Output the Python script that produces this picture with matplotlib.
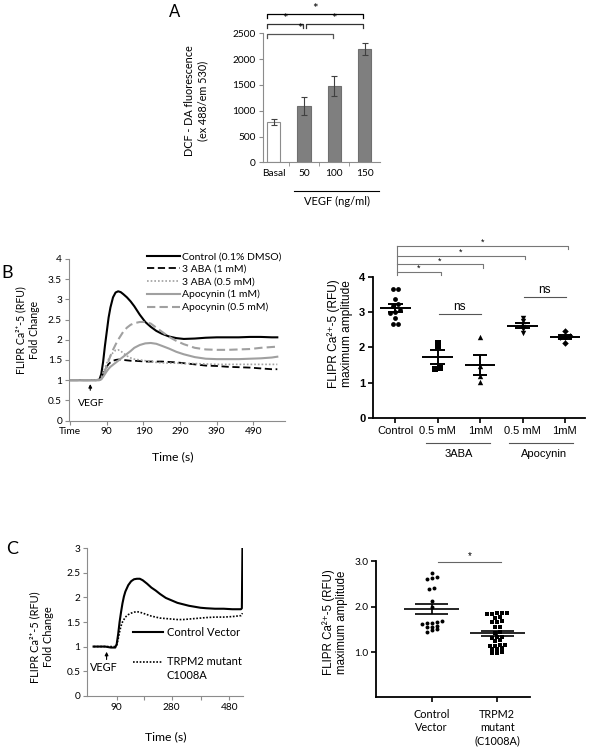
import numpy as np
import matplotlib.pyplot as plt
from matplotlib.lines import Line2D

CAL = ['Lato', 'DejaVu Sans']
ARIAL = ['Liberation Sans', 'DejaVu Sans']
plt.rcParams['font.family'] = CAL

W, H = 589, 750

# ---- panel A data ----
dcf_labels = ['Basal', '50', '100', '150']
dcf_mean = [775, 1095, 1478, 2195]
dcf_err = [55, 180, 185, 115]
dcf_sig = [(0, 3), (0, 1), (1, 3), (0, 2)]
dcf_sig_level = [2870, 2675, 2675, 2480]

# ---- panel B traces ----
b_time = [-10, 0, 20, 40, 60, 70, 75, 80, 85, 90, 95, 100, 107, 114, 121, 128, 135, 145, 155,
          165, 180, 195, 210, 225, 240, 260, 280, 300, 330, 360, 390, 420, 450, 480, 510, 540, 555]
b_control = [1.0, 1.0, 1.0, 1.0, 1.0, 1.01, 1.15, 1.45, 1.85, 2.2, 2.55, 2.8, 3.05, 3.17, 3.2, 3.18,
             3.13, 3.05, 2.95, 2.83, 2.62, 2.44, 2.32, 2.22, 2.15, 2.08, 2.04, 2.02, 2.03, 2.05, 2.06,
             2.06, 2.06, 2.07, 2.07, 2.06, 2.06]
b_aba_1 = [1.0, 1.0, 1.0, 1.0, 1.0, 1.0, 1.05, 1.15, 1.25, 1.33, 1.4, 1.44, 1.48, 1.5, 1.51, 1.51,
           1.5, 1.49, 1.48, 1.48, 1.47, 1.46, 1.46, 1.46, 1.46, 1.45, 1.44, 1.42, 1.39, 1.36, 1.35,
           1.33, 1.32, 1.31, 1.29, 1.27, 1.27]
b_aba_05 = [1.0, 1.0, 1.0, 1.0, 1.0, 1.0, 1.06, 1.18, 1.3, 1.42, 1.52, 1.6, 1.68, 1.74, 1.75, 1.72,
            1.67, 1.6, 1.55, 1.52, 1.5, 1.48, 1.46, 1.44, 1.43, 1.42, 1.42, 1.41, 1.41, 1.4, 1.39,
            1.39, 1.39, 1.39, 1.39, 1.39, 1.39]
b_apo_1 = [1.0, 1.0, 1.0, 1.0, 1.0, 1.0, 1.02, 1.08, 1.15, 1.22, 1.28, 1.33, 1.38, 1.43, 1.48, 1.53,
           1.58, 1.65, 1.72, 1.8, 1.87, 1.91, 1.92, 1.9, 1.85, 1.78, 1.7, 1.64, 1.57, 1.53, 1.52,
           1.52, 1.52, 1.53, 1.54, 1.56, 1.58]
b_apo_05 = [1.0, 1.0, 1.0, 1.0, 1.0, 1.0, 1.03, 1.12, 1.22, 1.35, 1.48, 1.6, 1.75, 1.88, 2.0, 2.1,
            2.2, 2.3, 2.37, 2.41, 2.44, 2.44, 2.4, 2.3, 2.2, 2.07, 1.97, 1.89, 1.8, 1.76, 1.75,
            1.75, 1.76, 1.77, 1.8, 1.82, 1.83]
b_ticks = [-10, 90, 190, 290, 390, 490]
b_ticklabels = ['Time', '90', '190', '290', '390', '490']

# ---- panel B amplitudes ----
amp_labels = ['Control', '0.5 mM', '1mM', '0.5 mM', '1mM']
amp_control = [3.66, 3.64, 3.36, 3.22, 3.18, 3.05, 3.0, 2.97, 2.82, 2.67, 2.66]
amp_aba_05 = [2.12, 2.03, 1.38, 1.41]
amp_aba_1 = [2.3, 1.46, 1.2, 1.01]
amp_apo_05 = [2.84, 2.74, 2.58, 2.52, 2.40]
amp_apo_1 = [2.47, 2.33, 2.3, 2.28, 2.13]
amp_sig = [1, 2, 3, 4]
amp_sig_level = [4.14, 4.35, 4.59, 4.87]

# ---- panel C traces ----
c_time = [10, 30, 50, 60, 70, 85, 90, 95, 100, 105, 110, 115, 120, 130, 140, 150, 160, 170, 180,
          195, 210, 225, 240, 260, 280, 300, 320, 340, 360, 380, 400, 430, 460, 490, 520, 523, 525]
c_control = [1.0, 1.0, 1.0, 0.99, 0.98, 0.98, 1.05, 1.25, 1.5, 1.7, 1.88, 2.02, 2.12, 2.25, 2.33,
             2.37, 2.38, 2.38, 2.35, 2.28, 2.2, 2.14, 2.07, 1.99, 1.94, 1.89, 1.86, 1.83, 1.81,
             1.79, 1.78, 1.77, 1.77, 1.76, 1.76, 1.78, 3.0]
c_trpm2 = [1.0, 1.0, 1.0, 1.0, 1.0, 1.0, 1.03, 1.15, 1.3, 1.42, 1.5, 1.55, 1.6, 1.65, 1.68, 1.7,
           1.71, 1.7, 1.68, 1.65, 1.62, 1.6, 1.58, 1.57, 1.56, 1.55, 1.55, 1.56, 1.57, 1.58, 1.59,
           1.6, 1.6, 1.61, 1.63, 1.65, 1.68]
c_ticks = [90, 280, 480]

# ---- panel C amplitudes ----
c_amp_labels = ['Control\nVector', 'TRPM2\nmutant\n(C1008A)']
c_amp_control = [2.75, 2.65, 2.64, 2.62, 2.42, 2.40, 2.13, 2.0, 1.68, 1.66, 1.64, 1.65, 1.62,
                 1.57, 1.56, 1.55, 1.5, 1.48, 1.44]
c_amp_trpm2 = [1.86, 1.85, 1.85, 1.84, 1.84, 1.78, 1.76, 1.68, 1.67, 1.66, 1.56, 1.55, 1.45,
               1.43, 1.34, 1.33, 1.31, 1.26, 1.25, 1.16, 1.15, 1.14, 1.13, 1.08, 1.07, 1.06,
               1.0, 0.98, 0.97]


def axes_px(fig, left, right, top, bottom):
    return fig.add_axes([left / W, 1 - bottom / H, (right - left) / W, (bottom - top) / H])


def excel_axes(ax):
    for s in ['top', 'right']:
        ax.spines[s].set_visible(False)
    for s in ['left', 'bottom']:
        ax.spines[s].set_color('#8c8c8c')
        ax.spines[s].set_linewidth(0.8)
    ax.tick_params(direction='out', length=3, width=0.8, color='#8c8c8c', labelsize=7.3, pad=2)


def prism_axes(ax):
    for s in ['top', 'right']:
        ax.spines[s].set_visible(False)
    for s in ['left', 'bottom']:
        ax.spines[s].set_linewidth(1.3)
    ax.tick_params(direction='out', length=3.5, width=1.2, labelsize=8, pad=2)


def spread(vals, step, tol):
    vals = np.asarray(vals, dtype=float)
    order = np.argsort(vals)
    off = np.zeros(len(vals))
    group = [order[0]]
    for k in order[1:]:
        if vals[k] - vals[group[-1]] < tol:
            group.append(k)
        else:
            off[group] = (np.arange(len(group)) - (len(group) - 1) / 2) * step
            group = [k]
    off[group] = (np.arange(len(group)) - (len(group) - 1) / 2) * step
    return off


def mean_sem(ax, x, vals, wm, ws, lw=1.4):
    vals = np.asarray(vals)
    m = vals.mean()
    s = vals.std(ddof=1) / np.sqrt(len(vals))
    ax.hlines(m, x - wm, x + wm, color='k', lw=lw, zorder=4)
    ax.hlines([m - s, m + s], x - ws, x + ws, color='k', lw=lw, zorder=4)
    ax.vlines(x, m - s, m + s, color='k', lw=lw, zorder=4)


fig = plt.figure(figsize=(W / 100, H / 100), dpi=100)

# ================= A =================
axA = axes_px(fig, 262.7, 379.8, 33.3, 162.3)
xa = np.arange(len(dcf_labels))
axA.bar(xa, dcf_mean, width=0.44, color=['white', '#7f7f7f', '#7f7f7f', '#7f7f7f'],
        edgecolor=['#8c8c8c', '#6f6f6f', '#6f6f6f', '#6f6f6f'], linewidth=0.8, zorder=2)
axA.errorbar(xa, dcf_mean, yerr=dcf_err, fmt='none', ecolor='#404040', elinewidth=0.8,
             capsize=2.5, capthick=0.8, zorder=3)
axA.set_xlim(-0.363, 3.5)
axA.set_ylim(0, 2500)
axA.set_yticks(range(0, 2501, 500))
excel_axes(axA)
axA.set_xticks(xa)
axA.set_xticklabels(dcf_labels)
axA.tick_params(axis='x', length=0, pad=5)
axA.set_xticks([0.5, 1.5, 2.5], minor=True)
axA.tick_params(axis='x', which='minor', length=3, color='#8c8c8c', direction='out')
axA.text(-0.57, 0.475, 'DCF - DA fluorescence\n(ex 488/em 530)', transform=axA.transAxes,
         rotation=90, ha='center', va='center', fontsize=7.8, linespacing=1.3)
axA.add_line(Line2D([0.67, 3.48], [-0.22, -0.22], transform=axA.get_xaxis_transform(),
                    color='k', lw=0.8, clip_on=False))
axA.text(2.08, -0.30, 'VEGF (ng/ml)', transform=axA.get_xaxis_transform(), ha='center',
         va='center', fontsize=8)
for (i, j), lev, col in zip(dcf_sig, dcf_sig_level, ['k', '#333333', '#333333', '#555555']):
    x1 = i - 0.22 if i == 0 else i + 0.05
    x2 = j - 0.05
    axA.plot([x1, x1, x2, x2], [lev - 75, lev, lev, lev - 75], color=col, lw=0.9,
             clip_on=False)
    axA.text((x1 + x2) / 2, lev - 15, '*', ha='center', va='bottom', fontsize=9.5)
fig.text(175 / W, 1 - 12 / H, 'A', fontsize=12, ha='center', va='center')

# ================= B left =================
axB = axes_px(fig, 69, 285, 259, 420.5)
axB.plot(b_time, b_control, color='k', lw=1.5, label='Control (0.1% DMSO)')
axB.plot(b_time, b_aba_1, color='k', lw=1.3, ls=(0, (4, 2)), label='3 ABA (1 mM)')
axB.plot(b_time, b_aba_05, color='#a0a0a0', lw=1.2, ls=(0, (1, 1.2)), label='3 ABA (0.5 mM)')
axB.plot(b_time, b_apo_1, color='#a0a0a0', lw=1.5, label='Apocynin (1 mM)')
axB.plot(b_time, b_apo_05, color='#a0a0a0', lw=1.5, ls=(0, (4, 2)), label='Apocynin (0.5 mM)')
axB.set_xlim(-13, 576)
axB.set_ylim(0, 4)
axB.set_yticks(np.arange(0, 4.01, 0.5))
axB.set_yticklabels(['%g' % v for v in np.arange(0, 4.01, 0.5)])
axB.set_xticks(b_ticks)
axB.set_xticklabels(b_ticklabels)
excel_axes(axB)
axB.legend(loc='upper left', bbox_to_anchor=(0.34, 1.07), frameon=False, fontsize=7.5,
           handlelength=3.2, handletextpad=0.2, labelspacing=0.32, borderaxespad=0)
axB.annotate('', xy=(45, 0.97), xytext=(45, 0.68),
             arrowprops=dict(arrowstyle='-|>', lw=0.8, color='k', mutation_scale=5))
axB.text(48, 0.42, 'VEGF', ha='center', va='center', fontsize=7.5)
axB.text(-0.19, 0.56, 'FLIPR Ca²⁺-5 (RFU)\nFold Change', transform=axB.transAxes,
         rotation=90, ha='center', va='center', fontsize=7.6, linespacing=1.3)
axB.text(0.48, -0.226, 'Time (s)', transform=axB.transAxes, ha='center', va='center',
         fontsize=8.8)
fig.text(7 / W, 1 - 273 / H, 'B', fontsize=13, ha='center', va='center')

# ================= B right =================
axR = axes_px(fig, 373, 585, 276.7, 418)
groups = [amp_control, amp_aba_05, amp_aba_1, amp_apo_05, amp_apo_1]
markers = ['o', 's', '^', 'v', 'D']
sizes = [12, 15, 15, 15, 11]
for i, (vals, mk, sz) in enumerate(zip(groups, markers, sizes)):
    xs = i + spread(vals, 0.12, 0.06)
    axR.scatter(xs, vals, marker=mk, s=sz, color='k', linewidths=0, zorder=3)
    mean_sem(axR, i, vals, 0.36, 0.17)
axR.set_xlim(-0.526, 4.474)
axR.set_ylim(0, 4)
prism_axes(axR)
axR.set_yticks(range(5))
axR.set_yticklabels([str(v) for v in range(5)], family=ARIAL, fontweight='bold')
axR.set_xticks(range(5))
axR.set_xticklabels(amp_labels, family=ARIAL)
for grp, x1, x2, lab in [('3ABA', 0.72, 2.23, 1.5), ('Apocynin', 2.68, 4.19, 3.5)]:
    axR.add_line(Line2D([x1, x2], [-0.18, -0.18], transform=axR.get_xaxis_transform(),
                        color='#555555', lw=0.8, clip_on=False))
    axR.text(lab, -0.255, grp, transform=axR.get_xaxis_transform(), ha='center', va='center',
             fontsize=8, family=ARIAL)
top = max(amp_sig_level)
axR.plot([0.03, 0.03], [4.05, top], color='#777777', lw=0.8, clip_on=False)
for j, lev in zip(amp_sig, amp_sig_level):
    x2 = j + 0.07
    axR.plot([0.03, x2, x2], [lev, lev, lev - 0.1], color='#777777', lw=0.8, clip_on=False)
    axR.text((0.03 + x2) / 2, lev - 0.03, '*', ha='center', va='bottom', fontsize=6.5,
             family=ARIAL)
for i, j, lev in [(1, 2, 2.94), (3, 4, 3.42)]:
    axR.plot([i + 0.03, j + 0.02], [lev, lev], color='#555555', lw=0.8)
    axR.text((i + j) / 2 + 0.02, lev + 0.03, 'ns', ha='center', va='bottom', fontsize=8.5,
             family=ARIAL)
axR.text(-0.155, 0.6, 'FLIPR Ca²⁺-5 (RFU)\nmaximum amplitude', transform=axR.transAxes,
         rotation=90, ha='center', va='center', fontsize=8.6, family=ARIAL, linespacing=1.1)

# ================= C left =================
axC = axes_px(fig, 87.3, 243.3, 548.3, 695.7)
axC.plot(c_time, c_control, color='k', lw=1.5)
axC.plot(c_time, c_trpm2, color='k', lw=1.2, ls=(0, (1, 1)))
axC.set_xlim(-11.7, 528)
axC.set_ylim(0, 3)
axC.set_yticks(np.arange(0, 3.01, 0.5))
axC.set_yticklabels(['%g' % v for v in np.arange(0, 3.01, 0.5)])
axC.set_xticks(c_ticks)
axC.set_xticks([185, 380], minor=True)
excel_axes(axC)
axC.tick_params(axis='x', which='minor', length=3, width=0.8, color='#8c8c8c', direction='out')
axC.annotate('', xy=(55, 0.95), xytext=(55, 0.68),
             arrowprops=dict(arrowstyle='-|>', lw=0.8, color='k', mutation_scale=5))
axC.text(44, 0.58, 'VEGF', ha='center', va='center', fontsize=7.8)
axC.add_line(Line2D([0.295, 0.487], [0.43, 0.43], transform=axC.transAxes, color='k', lw=1.5))
axC.text(0.51, 0.43, 'Control Vector', transform=axC.transAxes, ha='left', va='center',
         fontsize=8)
axC.add_line(Line2D([0.295, 0.487], [0.23, 0.23], transform=axC.transAxes, color='k', lw=1.2,
                    ls=(0, (1, 1))))
axC.text(0.51, 0.23, 'TRPM2 mutant', transform=axC.transAxes, ha='left', va='center',
         fontsize=8)
axC.text(0.51, 0.135, 'C1008A', transform=axC.transAxes, ha='left', va='center', fontsize=8)
axC.text(-0.29, 0.40, 'FLIPR Ca²⁺-5 (RFU)\nFold Change', transform=axC.transAxes,
         rotation=90, ha='center', va='center', fontsize=7.9, linespacing=1.3)
axC.text(0.50, -0.278, 'Time (s)', transform=axC.transAxes, ha='center', va='center',
         fontsize=8.8)
fig.text(12 / W, 1 - 549 / H, 'C', fontsize=13, ha='center', va='center')

# ================= C right =================
axD = axes_px(fig, 376, 530, 561.4, 697.3)
for i, (vals, mk, sz) in enumerate(zip([c_amp_control, c_amp_trpm2], ['o', 's'], [8, 8])):
    xs = i + spread(vals, 0.075, 0.045)
    axD.scatter(xs, vals, marker=mk, s=sz, color='k', linewidths=0, zorder=3)
    mean_sem(axD, i, vals, 0.42, 0.25, lw=1.2)
axD.set_xlim(-0.85, 1.5)
axD.set_ylim(0, 3.0)
prism_axes(axD)
axD.set_yticks([1.0, 2.0, 3.0])
axD.set_yticklabels(['1.0', '2.0', '3.0'], fontsize=7.3)
axD.set_xticks([0, 1])
axD.set_xticklabels(c_amp_labels, fontsize=7.8, linespacing=1.25)
axD.tick_params(axis='x', pad=5)
axD.plot([0.09, 1.06], [2.99, 2.99], color='#666666', lw=0.8, clip_on=False)
axD.text(0.575, 3.01, '*', ha='center', va='bottom', fontsize=7, family=ARIAL)
axD.text(-0.266, 0.55, 'FLIPR Ca²⁺-5 (RFU)\nmaximum amplitude', transform=axD.transAxes,
         rotation=90, ha='center', va='center', fontsize=8.3, family=ARIAL, linespacing=1.1)

fig.savefig('out.png', dpi=100)
